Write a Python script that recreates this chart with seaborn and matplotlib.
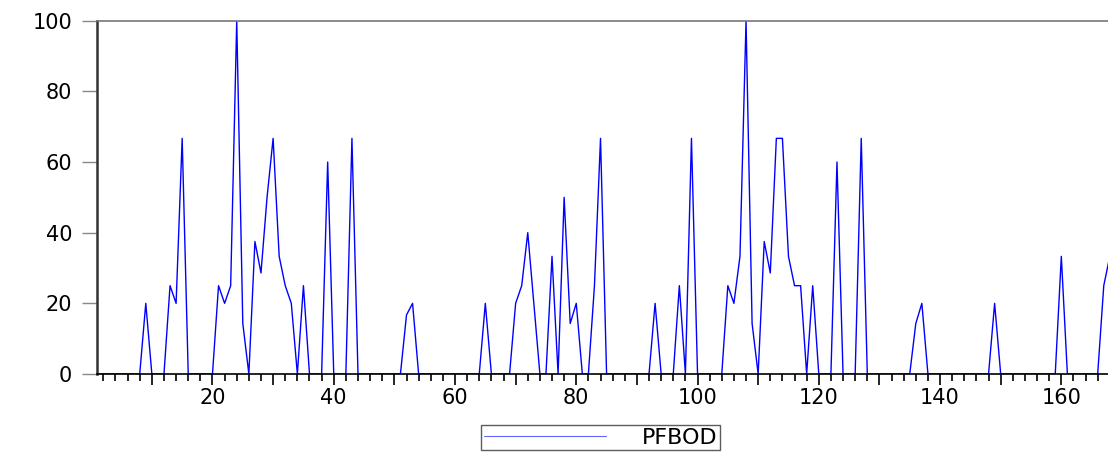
import numpy as np
import pandas as pd
import matplotlib
matplotlib.use("Agg")
import matplotlib.pyplot as plt
import seaborn as sns
from matplotlib.ticker import MultipleLocator, FuncFormatter

obs = list(range(1, 169))
pfbod = [
    0, 0, 0, 0, 0, 0, 0, 0, 20, 0,            # 1-10
    0, 0, 25, 20, 66.7, 0, 0, 0, 0, 0,        # 11-20
    25, 20, 25, 100, 14.3, 0, 37.5, 28.6, 50, 66.7,  # 21-30
    33.3, 25, 20, 0, 25, 0, 0, 0, 60, 0,      # 31-40
    0, 0, 66.7, 0, 0, 0, 0, 0, 0, 0,          # 41-50
    0, 16.7, 20, 0, 0, 0, 0, 0, 0, 0,         # 51-60
    0, 0, 0, 0, 20, 0, 0, 0, 0, 20,           # 61-70
    25, 40, 20, 0, 0, 33.3, 0, 50, 14.3, 20,  # 71-80
    0, 0, 25, 66.7, 0, 0, 0, 0, 0, 0,         # 81-90
    0, 0, 20, 0, 0, 0, 25, 0, 66.7, 0,        # 91-100
    0, 0, 0, 0, 25, 20, 33.3, 100, 14.3, 0,   # 101-110
    37.5, 28.6, 66.7, 66.7, 33.3, 25, 25, 0, 25, 0,  # 111-120
    0, 0, 60, 0, 0, 0, 66.7, 0, 0, 0,         # 121-130
    0, 0, 0, 0, 0, 14.3, 20, 0, 0, 0,         # 131-140
    0, 0, 0, 0, 0, 0, 0, 0, 20, 0,            # 141-150
    0, 0, 0, 0, 0, 0, 0, 0, 0, 33.3,          # 151-160
    0, 0, 0, 0, 0, 0, 25, 33.3,               # 161-168
]

df = pd.DataFrame({"obs": obs, "PFBOD": pfbod})

sns.set_style("ticks")
plt.rcParams['font.family'] = ['DejaVu Sans']
plt.rcParams['text.color'] = 'black'

fig = plt.figure(figsize=(11.08, 4.53), dpi=100)
ax = fig.add_axes([0.0878, 0.1744, 0.9122, 0.7799])

sns.lineplot(data=df, x="obs", y="PFBOD", ax=ax, color="#0000ff",
             linewidth=1.0, label="PFBOD")

ax.set_xlim(1, 167.7)
ax.set_ylim(0, 100)
ax.set_xlabel("")
ax.set_ylabel("")

# x axis: minor ticks every 2, major every 10, labels every 20
ax.xaxis.set_major_locator(MultipleLocator(10))
ax.xaxis.set_minor_locator(MultipleLocator(2))
ax.xaxis.set_major_formatter(FuncFormatter(lambda v, p: f"{int(v)}" if int(v) % 20 == 0 else ""))
ax.tick_params(axis="x", which="major", length=8, width=1.2, color="black",
               labelsize=15, pad=2, direction="out", labelcolor="black")
ax.tick_params(axis="x", which="minor", length=5, width=1.2, color="black", direction="out")

ax.yaxis.set_major_locator(MultipleLocator(20))
ax.tick_params(axis="y", which="major", length=11, width=1.0, color="#888888",
               labelsize=15, pad=7, direction="out", labelcolor="black")

ax.spines["left"].set_linewidth(1.8)
ax.spines["left"].set_color("#333333")
ax.spines["bottom"].set_linewidth(1.2)
ax.spines["bottom"].set_color("black")
ax.spines["top"].set_visible(True)
ax.spines["top"].set_color("#777777")
ax.spines["top"].set_linewidth(1.2)
ax.spines["right"].set_visible(False)

leg = ax.legend(loc="upper center", bbox_to_anchor=(0.498, -0.144), frameon=True,
                fancybox=False, edgecolor="#333333", fontsize=16,
                handlelength=5.5, handletextpad=1.6, borderpad=0.12,
                borderaxespad=0)
leg.get_frame().set_linewidth(1.0)
for txt in leg.get_texts():
    txt.set_color("black")
for line in leg.get_lines():
    line.set_linewidth(0.8)
    line.set_color("#6666ff")

fig.savefig("out.png", dpi=100)
